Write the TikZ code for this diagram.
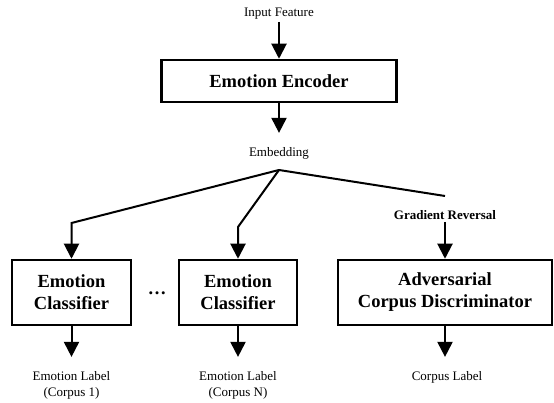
\documentclass[tikz,border=0pt]{standalone}
\usepackage{fontspec}
\setmainfont{Liberation Serif}
\usetikzlibrary{positioning,arrows.meta}
\tikzset{>={Triangle[length=15pt,width=15pt]}}
\tikzset{
  block/.style={draw, line width=2.5pt, align=center, minimum height=65pt, font=\fontsize{18.5}{22}\selectfont\bfseries},
  lbl/.style={align=center, inner sep=2pt, font=\fontsize{13}{16}\selectfont},
  conn/.style={line width=2pt}
}

\begin{document}
\begin{tikzpicture}[x=1pt, y=1pt]
      \useasboundingbox (0,0) rectangle (554,403);
      \node[lbl] (in) at (279,389) {Input Feature};
      \node[block, below of=in, node distance=67pt, minimum width=235pt, minimum height=42pt] (enc) {Emotion Encoder};
      \node[lbl, below of=enc, node distance=72pt] (emb) {Embedding};
      \coordinate[below of=emb, node distance=17pt] (split);
      \node[block, minimum width=119pt] (cls1) at (71.5,110.5) {Emotion\\Classifier};
      \node[block, right of=cls1, node distance=166.5pt, minimum width=118pt] (clsN) {Emotion\\Classifier};
      \node[block, right of=clsN, node distance=207pt, minimum width=214pt] (disc) {Adversarial\\Corpus Discriminator};
      \node[font=\fontsize{18.5}{22}\selectfont\bfseries] (dots) at (157,110) {\ldots};
      \coordinate[above of=cls1, node distance=69.5pt] (k1);
      \coordinate[above of=clsN, node distance=65.5pt] (kN);
      \coordinate[above of=disc, node distance=96.5pt] (grlend);
      \node[lbl, font=\fontsize{13}{16}\selectfont\bfseries, above of=disc, node distance=77.5pt] (grl) {Gradient Reversal};
      \node[lbl, below of=cls1, node distance=92.5pt] (lab1) {Emotion Label\\(Corpus 1)};
      \node[lbl, below of=clsN, node distance=92.5pt] (labN) {Emotion Label\\(Corpus N)};
      \node[lbl, below of=disc, node distance=84.5pt, xshift=2pt] (labc) {Corpus Label};
      \draw[conn, ->] (in) to (enc);
      \draw[conn, ->, shorten >=12pt] (enc) to (emb);
      \draw[conn, ->] (split) to (k1) to (cls1);
      \draw[conn, ->] (split) to (kN) to (clsN);
      \draw[conn] (split) to (grlend);
      \draw[conn, ->] (grl) to (disc);
      \draw[conn, ->, shorten >=12pt] (cls1) to (lab1);
      \draw[conn, ->, shorten >=12pt] (clsN) to (labN);
      \draw[conn, ->, shorten >=12pt] (disc.south) to (disc.south |- labc.north);
    \end{tikzpicture}
\end{document}
